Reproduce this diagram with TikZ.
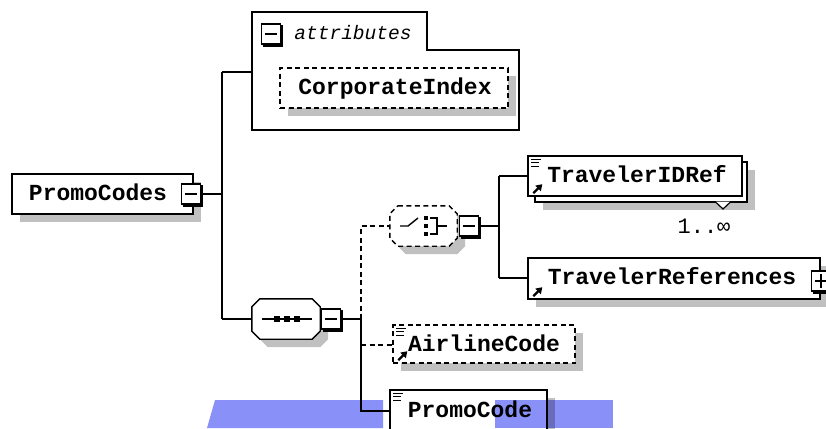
\documentclass[tikz,border=0pt]{standalone}
\usepackage{fontspec}
\usetikzlibrary{arrows.meta,shadows}
\newfontfamily\lblfont{Liberation Mono}
\definecolor{shgray}{RGB}{192,192,192}
\definecolor{hlblue}{RGB}{137,145,248}
\newcommand{\xbox}[4]{%
  \node[mbox] (#1) at (#2,#3) {};
  \draw[line width=2.8pt] ([xshift=0.8pt,yshift=-2pt]#1.north east) -- ([xshift=0.8pt,yshift=-0.8pt]#1.south east) -- ([xshift=2pt,yshift=-0.8pt]#1.south west);
  \draw[line width=1.2pt] ([xshift=4pt]#1.west) -- ([xshift=-4pt]#1.east);
  \ifnum#4=1 \draw[line width=1.2pt] ([yshift=-4pt]#1.north) -- ([yshift=4pt]#1.south);\fi
}
\newcommand{\listicon}[1]{\draw[line width=1pt] ([xshift=4pt,yshift=-4pt]#1.north west) -- ++(10pt,0pt) ([xshift=4pt,yshift=-7.5pt]#1.north west) -- ++(8pt,0pt) ([xshift=4pt,yshift=-11pt]#1.north west) -- ++(8pt,0pt);}
\newcommand{\refarrow}[1]{\draw[line width=2.2pt, -{Triangle[length=6pt,width=7.5pt]}] ([xshift=6pt,yshift=3.5pt]#1.south west) -- ++(9pt,9pt);}
\newcommand{\octo}[1]{([xshift=8pt]#1.north west) -- ([xshift=-8pt]#1.north east) -- ([yshift=-8pt]#1.north east) -- ([yshift=8pt]#1.south east) -- ([xshift=-8pt]#1.south east) -- ([xshift=8pt]#1.south west) -- ([yshift=8pt]#1.south west) -- ([yshift=-8pt]#1.north west) -- cycle}
\begin{document}
\begin{tikzpicture}[x=1pt,y=-1pt,
  conn/.style={line width=1.4pt},
  optconn/.style={conn, dash pattern=on 5pt off 3.5pt},
  elbox/.style={draw, fill=white, line width=1.4pt, inner sep=0pt},
  optbox/.style={elbox, dash pattern=on 5pt off 3.5pt},
  shad/.style={drop shadow={shadow xshift=8pt, shadow yshift=-8pt, fill=shgray, opacity=1, draw=none}},
  lbl/.style={font=\lblfont\bfseries\fontsize{23}{23}\selectfont, inner sep=0pt, text height=13pt, text depth=0pt},
  hidden/.style={inner sep=0pt, draw=none},
  mbox/.style={draw, fill=white, line width=1.3pt, inner sep=0pt, minimum width=19pt, minimum height=20pt},
]
\useasboundingbox (0,0) rectangle (826,428);
\clip (0,0) rectangle (826,428);
\fill[white] (0,0) rectangle (826,428);

% attributes
\node[hidden, minimum width=267pt, minimum height=118pt] (attr) at (385.5,71) {};
\draw[conn, fill=white] (252,12) -- (427,12) -- (427,50) -- (519,50) -- (519,130) -- (252,130) -- cycle;
\xbox{attrm}{271}{34}{0}
\node[font=\lblfont\itshape\fontsize{19.5}{19.5}\selectfont, inner sep=0pt] (attrtxt) at (353,33) {attributes};
\node[optbox, shad, minimum width=228pt, minimum height=40pt] (corp) at (394,88) {};
\node[lbl] (corptxt) at (395,88) {CorporateIndex};

% root
\node[elbox, shad, minimum width=181pt, minimum height=40pt] (pcs) at (102.5,194) {};
\node[lbl] (pcstxt) at (98,194) {PromoCodes};
\xbox{pcsm}{191}{194}{0}
\coordinate (j1) at (222,194);
\coordinate (ja) at (222,72);
\coordinate (js) at (222,319);
\draw[conn] (pcsm.east) -- (j1);
\draw[conn] (ja) -- (js);
\draw[conn] (ja) -- (attr.west |- ja);

% sequence
\node[hidden, minimum width=68pt, minimum height=40pt] (seqsh) at (294,327) {};
\node[hidden, minimum width=68pt, minimum height=40pt] (seq) at (286,319) {};
\fill[shgray] \octo{seqsh};
\draw[conn, fill=white] \octo{seq};
\draw[conn] ([xshift=10pt]seq.west) -- ([xshift=-8pt]seq.east);
\foreach \d in {-9,1,11} \fill ([xshift=\d pt]seq.center) +(-2.8pt,-2.8pt) rectangle +(2.8pt,2.8pt);
\xbox{seqm}{331}{319}{0}
\draw[conn] (js) -- (seq.west);
\coordinate (k1) at (361,319);
\draw[conn] (seqm.east) -- (k1);

% choice
\node[hidden, minimum width=67pt, minimum height=40pt] (chsh) at (431.5,234) {};
\node[hidden, minimum width=67pt, minimum height=40pt] (ch) at (423.5,226) {};
\fill[shgray] \octo{chsh};
\draw[conn, fill=white, dash pattern=on 5pt off 3.5pt] \octo{ch};
\draw[conn] (400,226) -- (408,226) -- (418,218);
\foreach \yy in {218,226,234} \fill (426,\yy) +(-2.4pt,-2.4pt) rectangle +(2.4pt,2.4pt);
\draw[conn] (430,218) -- (437,218) -- (437,234) -- (430,234);
\draw[conn] (437,226) -- (447,226);
\xbox{chm}{469}{226}{0}
\coordinate (c0) at (361,226);
\draw[optconn] (k1) -- (c0) -- (ch.west);
\coordinate (c1) at (499,226);
\draw[conn] (chm.east) -- (c1);
\coordinate (c2) at (499,176);
\coordinate (c3) at (499,278);
\draw[conn] (c2) -- (c3);

% TravelerIDRef
\node[elbox, shad, minimum width=212pt, minimum height=40pt] (tidb) at (641,182) {};
\draw[line width=1.2pt, fill=white] (715,201.5) -- (723,209) -- (731,201.5);
\node[elbox, minimum width=214pt, minimum height=40pt] (tid) at (635,176) {};
\node[lbl] (tidtxt) at (637,176) {TravelerIDRef};
\listicon{tid}
\refarrow{tid}
\draw[conn] (c2) -- (tid.west);
\node[font=\lblfont\fontsize{22}{22}\selectfont, inner sep=0pt] (mult) at (704,226) {1..∞};

% TravelerReferences
\node[elbox, shad, minimum width=292pt, minimum height=41pt] (tref) at (674,278.5) {};
\node[lbl] (treftxt) at (672,278) {TravelerReferences};
\refarrow{tref}
\xbox{trefp}{821}{281}{1}
\draw[conn] (c3) -- (tref.west |- c3);

% AirlineCode
\node[optbox, shad, minimum width=182pt, minimum height=38pt] (air) at (484,344) {};
\node[lbl] (airtxt) at (484,345) {AirlineCode};
\listicon{air}
\refarrow{air}
\coordinate (k2) at (361,345);
\draw[optconn] (k2) -- (air.west |- k2);

% PromoCode
\node[elbox, shad, minimum width=157pt, minimum height=50pt] (pcb) at (468.5,415) {};
\node[lbl] (pcbtxt) at (470,411) {PromoCode};
\listicon{pcb}
\coordinate (k3) at (361,411);
\draw[conn] (k1) -- (k3) -- (pcb.west |- k3);

% highlight overlay
\begin{scope}[blend mode=multiply]
\fill[hlblue] (207,428) -- (215,400) -- (383,400) -- (383,428) -- cycle;
\fill[hlblue] (495,400) -- (613,400) -- (613,428) -- (495,428) -- cycle;
\end{scope}
\end{tikzpicture}
\end{document}
